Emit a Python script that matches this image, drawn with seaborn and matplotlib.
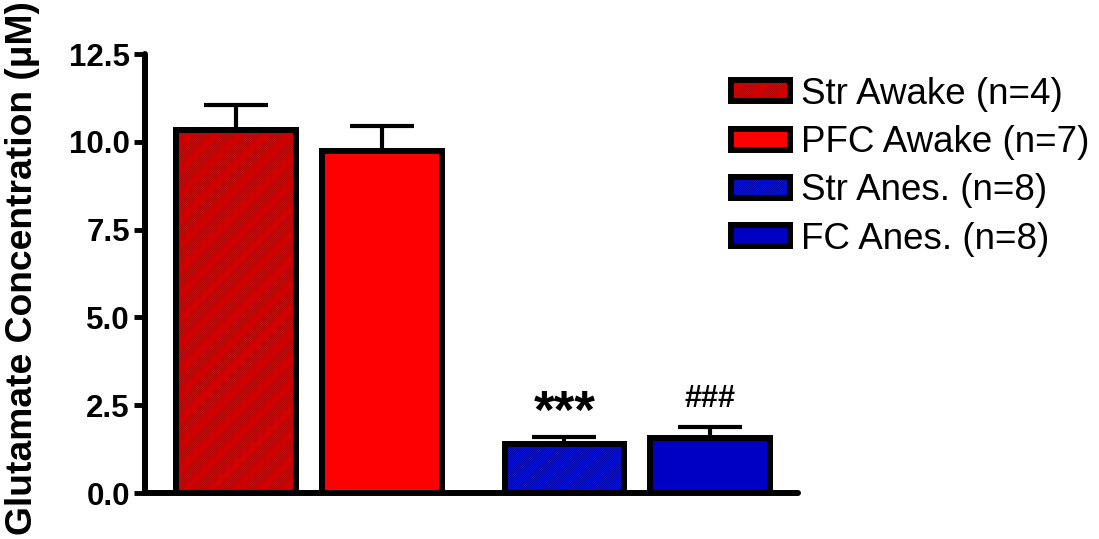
import numpy as np
import pandas as pd
import matplotlib
matplotlib.use("Agg")
import matplotlib.pyplot as plt
from matplotlib.patches import Rectangle, Patch
from matplotlib import font_manager
import seaborn as sns

# Glutamate concentration per group (mean and SEM, µM)
categories = ["Str Awake (n=4)", "PFC Awake (n=7)", "Str Anes. (n=8)", "FC Anes. (n=8)"]
means = [10.34, 9.75, 1.40, 1.58]
sems = [0.71, 0.71, 0.19, 0.31]
groups = ["Awake", "Awake", "Anes", "Anes"]
marks = ["", "", "***", "###"]
yticks = [0.0, 2.5, 5.0, 7.5, 10.0, 12.5]

face_colors = ["#ff0a0a", "#ff0000", "#1020ff", "#0000c4"]
hatch_colors = ["#9a0000", None, "#000096", None]

sns.set_style("ticks")
plt.rcParams["font.family"] = ["Liberation Sans", "DejaVu Sans"]
plt.rcParams["hatch.linewidth"] = 0.55
for key in ("text.color", "axes.labelcolor", "xtick.color", "ytick.color",
            "xtick.labelcolor", "ytick.labelcolor"):
    plt.rcParams[key] = "black"


def has_font(name):
    try:
        font_manager.findfont(font_manager.FontProperties(family=name),
                              fallback_to_default=False)
        return True
    except Exception:
        return False


label_family = "Liberation Sans Narrow" if has_font("Liberation Sans Narrow") else "Liberation Sans"
label_size = 32 if label_family == "Liberation Sans Narrow" else 26.8

# bar positions: a small extra gap between the awake and anesthetized groups
group_index = pd.Series(groups).map({"Awake": 0, "Anes": 1}).to_numpy()
positions = np.arange(len(categories)) + 0.25 * group_index

df = pd.DataFrame({"pos": positions, "mean": means, "sem": sems, "group": categories})

fig = plt.figure(figsize=(10.99, 5.39), dpi=100)
ax = fig.add_axes([0.132, 0.0853, 0.594, 0.8145])

edge_lw = 4.3
hatch = "/" * 18
sns.barplot(data=df, x="pos", y="mean", hue="group", hue_order=categories,
            palette=dict(zip(categories, face_colors)), native_scale=True,
            width=0.82, edgecolor="black", linewidth=edge_lw, legend=False,
            errorbar=None, ax=ax, saturation=1)

# fine diagonal texture on the striatum bars, then the black outline on top
bars = [p for p in ax.patches if isinstance(p, Rectangle)]
for p, hc in zip(bars, hatch_colors):
    p.set_zorder(2)
    if hc is None:
        continue
    ax.add_patch(Rectangle(p.get_xy(), p.get_width(), p.get_height(),
                           facecolor="none", edgecolor=hc, hatch=hatch,
                           linewidth=0, zorder=2.1))
    ax.add_patch(Rectangle(p.get_xy(), p.get_width(), p.get_height(),
                           facecolor="none", edgecolor="black",
                           linewidth=edge_lw, zorder=2.2))

# upper SEM bars only
eb = ax.errorbar(positions, means, yerr=[np.zeros(len(sems)), sems], fmt="none",
                 ecolor="black", elinewidth=3, capsize=23, capthick=3, zorder=1)

# significance marks above the anesthetized bars
for x, m, s, txt in zip(positions, means, sems, marks):
    if not txt:
        continue
    if txt.startswith("*"):
        ax.text(x, 1.85, txt, ha="center", va="baseline", fontsize=38,
                fontweight="bold")
    else:
        ax.text(x, 2.45, txt, ha="center", va="baseline", fontsize=22,
                fontweight="bold")

ax.set_xlim(-0.623, 3.85)
ax.set_ylim(0, 12.5)
ax.set_yticks(yticks)
ax.set_yticklabels([f"{v:.1f}" for v in yticks], fontsize=22.5, fontweight="bold")
ax.set_xticks([])
ax.set_xlabel("")
ax.set_ylabel("")
ax.tick_params(axis="y", length=8, width=3.5, pad=3, color="black")
sns.despine(ax=ax)
for side in ("left", "bottom"):
    ax.spines[side].set_linewidth(4.3)
    ax.spines[side].set_color("black")
    ax.spines[side].set_capstyle("round")

fig.text(23 / 1099, 1 - 268 / 539, "Glutamate Concentration (\u03bcM)",
         rotation=90, ha="center", va="center", fontsize=label_size,
         fontweight="bold", family=[label_family, "DejaVu Sans"])

# legend: filled patch with its texture, black outline drawn over it
handles = []
for fc, hc in zip(face_colors, hatch_colors):
    if hc is None:
        fill = Patch(facecolor=fc, edgecolor=fc, linewidth=0)
    else:
        fill = Patch(facecolor=fc, edgecolor=hc, hatch=hatch, linewidth=0)
    outline = Patch(facecolor="none", edgecolor="black", linewidth=edge_lw)
    handles.append((fill, outline))

fig.legend(handles, categories, loc="upper left",
           bbox_to_anchor=(731 / 1099, 1 - 77 / 539), frameon=False,
           fontsize=26.5, handlelength=1.6, handleheight=0.5,
           handletextpad=0.3, labelspacing=0.36, borderpad=0, borderaxespad=0)

fig.savefig("out.png", dpi=100)
